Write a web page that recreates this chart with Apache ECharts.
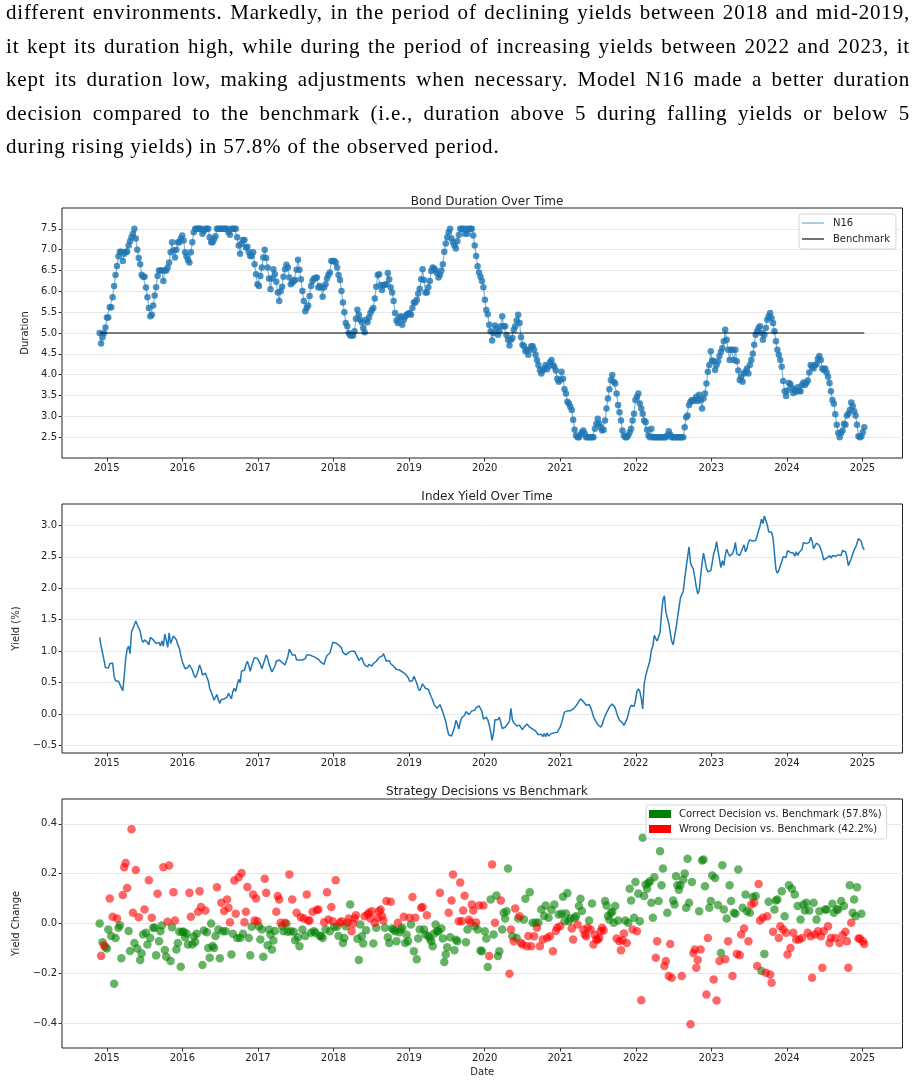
<!DOCTYPE html>
<html lang="en">

<head>
  <meta charset="UTF-8">
  <title>Bond Duration Over Time</title>
  <style>
    html,
    body {
      margin: 0;
      padding: 0;
      background: #fff;
    }

    body {
      width: 916px;
      height: 1086px;
      position: relative;
      overflow: hidden;
    }

    .text {
      position: absolute;
      left: 6px;
      top: -4px;
      width: 904px;
      font-family: 'Liberation Serif', 'DejaVu Serif', serif;
      font-size: 21px;
      letter-spacing: 0.8px;
      line-height: 33.5px;
      color: #000;
      z-index: 2;
    }

    .text div {
      text-align: justify;
      text-align-last: justify;
    }

    .text div.last {
      text-align-last: left;
    }

    #chart {
      position: absolute;
      left: 0;
      top: 0;
      width: 916px;
      height: 1086px;
    }
  </style>
</head>

<body>
  <div class="text">
    <div>different environments. Markedly, in the period of declining yields between 2018 and mid-2019,</div>
    <div>it kept its duration high, while during the period of increasing yields between 2022 and 2023, it</div>
    <div>kept its duration low, making adjustments when necessary. Model N16 made a better duration</div>
    <div>decision compared to the benchmark (i.e., duration above 5 during falling yields or below 5</div>
    <div class="last">during rising yields) in 57.8% of the observed period.</div>
  </div>
  <div id="chart"></div>

  <script src="https://cdn.jsdelivr.net/npm/echarts@6/dist/echarts.min.js"></script>
  <script>
    // weekly observations, first one late Nov 2014 (decimal years)
    const START = 2014.905;
    const WEEK = 7 / 365.25;

    const yearTicks = [2015, 2016, 2017, 2018, 2019, 2020, 2021, 2022, 2023, 2024, 2025];
    const durationTicks = [2.5, 3, 3.5, 4, 4.5, 5, 5.5, 6, 6.5, 7, 7.5];
    const yieldTicks = [-0.5, 0, 0.5, 1, 1.5, 2, 2.5, 3];
    const changeTicks = [-0.4, -0.2, 0, 0.2, 0.4];
    const benchmark = 5;

    const duration = [
      5.0, 4.75, 4.9, 5.0, 5.13, 5.37, 5.37, 5.62, 5.62, 5.86,
      6.13, 6.39, 6.61, 6.84, 6.95, 6.95, 6.73, 6.9, 6.95, 6.95,
      7.1, 7.2, 7.3, 7.38, 7.5, 7.27, 7.0, 6.8, 6.65, 6.4,
      6.35, 6.35, 6.09, 5.86, 5.6, 5.4, 5.44, 5.66, 5.9, 6.1,
      6.37, 6.5, 6.5, 6.5, 6.25, 6.5, 6.5, 6.57, 6.69, 6.94,
      7.18, 6.98, 6.81, 7.0, 7.18, 7.18, 7.26, 7.34, 7.22, 6.94,
      6.84, 6.75, 6.69, 6.94, 7.18, 7.42, 7.5, 7.5, 7.5, 7.5,
      7.5, 7.38, 7.45, 7.5, 7.5, 7.5, 7.3, 7.18, 7.18, 7.25,
      7.32, 7.5, 7.5, 7.5, 7.5, 7.5, 7.5, 7.5, 7.5, 7.42,
      7.36, 7.5, 7.5, 7.5, 7.5, 7.3, 7.1, 6.9, 7.14, 7.23,
      7.23, 7.05, 7.07, 6.94, 6.85, 6.85, 6.94, 6.65, 6.41, 6.17,
      6.13, 6.37, 6.57, 6.81, 7.0, 6.8, 6.57, 6.31, 6.05, 6.31,
      6.53, 6.41, 6.23, 5.97, 5.77, 6.0, 6.11, 6.35, 6.53, 6.64,
      6.57, 6.33, 6.17, 6.21, 6.25, 6.27, 6.52, 6.76, 6.52, 6.29,
      6.01, 5.77, 5.52, 5.6, 5.66, 5.89, 6.13, 6.25, 6.31, 6.32,
      6.33, 6.09, 6.13, 6.09, 5.87, 6.09, 6.17, 6.31, 6.39, 6.45,
      6.73, 6.73, 6.73, 6.69, 6.57, 6.39, 6.27, 6.01, 5.73, 5.5,
      5.24, 5.16, 5.0, 4.94, 4.94, 4.94, 5.04, 5.34, 5.56, 5.44,
      5.32, 5.26, 5.12, 5.02, 5.32, 5.26, 5.37, 5.48, 5.55, 5.6,
      5.83, 6.11, 6.39, 6.41, 6.15, 6.03, 6.15, 6.16, 6.17, 6.44,
      6.29, 6.09, 5.97, 5.77, 5.48, 5.3, 5.24, 5.37, 5.4, 5.2,
      5.32, 5.39, 5.44, 5.46, 5.48, 5.44, 5.6, 5.73, 5.73, 5.8,
      5.95, 6.06, 6.29, 6.53, 6.27, 5.97, 5.97, 6.1, 6.25, 6.49,
      6.57, 6.55, 6.5, 6.44, 6.33, 6.4, 6.5, 6.65, 6.95, 7.15,
      7.3, 7.42, 7.5, 7.27, 7.18, 7.1, 7.03, 7.2, 7.35, 7.5,
      7.5, 7.5, 7.38, 7.5, 7.38, 7.5, 7.5, 7.5, 7.34, 7.1,
      6.85, 6.6, 6.45, 6.35, 6.25, 6.1, 5.8, 5.55, 5.45, 5.2,
      5.04, 4.82, 5.0, 5.18, 5.12, 4.96, 5.04, 5.16, 5.4, 5.16,
      5.16, 4.95, 4.84, 4.7, 4.84, 4.88, 5.08, 5.16, 5.3, 5.44,
      5.24, 4.9, 4.72, 4.68, 4.56, 4.6, 4.48, 4.6, 4.68, 4.68,
      4.6, 4.48, 4.35, 4.23, 4.11, 4.03, 4.1, 4.15, 4.23, 4.13,
      4.2, 4.3, 4.35, 4.23, 4.19, 4.1, 3.9, 3.83, 3.87, 4.07,
      3.9, 3.65, 3.55, 3.35, 3.31, 3.23, 3.15, 2.92, 2.68, 2.54,
      2.5, 2.5, 2.56, 2.62, 2.66, 2.58, 2.5, 2.5, 2.5, 2.5,
      2.5, 2.5, 2.7, 2.82, 2.94, 2.82, 2.74, 2.66, 2.68, 2.9,
      3.19, 3.43, 3.65, 3.87, 3.99, 3.83, 3.79, 3.55, 3.27, 3.1,
      2.9, 2.66, 2.54, 2.5, 2.5, 2.54, 2.62, 2.7, 2.9, 3.06,
      3.39, 3.47, 3.55, 3.31, 3.19, 3.06, 2.9, 2.86, 2.68, 2.54,
      2.5, 2.7, 2.5, 2.5, 2.5, 2.5, 2.5, 2.5, 2.5, 2.5,
      2.5, 2.5, 2.54, 2.64, 2.56, 2.5, 2.5, 2.5, 2.5, 2.5,
      2.5, 2.5, 2.5, 2.5, 2.74, 2.98, 3.02, 3.27, 3.35, 3.39,
      3.37, 3.4, 3.47, 3.37, 3.52, 3.39, 3.19, 3.43, 3.55, 3.79,
      4.07, 4.23, 4.56, 4.34, 4.32, 4.11, 4.23, 4.32, 4.45, 4.55,
      4.64, 4.8, 5.08, 4.84, 4.6, 4.35, 4.6, 4.6, 4.35, 4.6,
      4.32, 4.1, 3.87, 3.95, 3.83, 4.03, 4.07, 4.15, 4.03, 4.23,
      4.35, 4.5, 4.72, 4.96, 5.04, 5.12, 5.16, 5.0, 4.84, 4.96,
      5.12, 5.32, 5.4, 5.48, 5.36, 5.24, 5.04, 4.8, 4.6, 4.48,
      4.35, 4.19, 3.85, 3.6, 3.49, 3.62, 3.8, 3.77, 3.68, 3.56,
      3.63, 3.59, 3.7, 3.61, 3.6, 3.75, 3.81, 3.75, 3.8, 3.86,
      4.05, 4.23, 4.19, 4.15, 4.23, 4.25, 4.38, 4.45, 4.35, 4.15,
      4.11, 4.15, 4.05, 3.95, 3.8, 3.6, 3.39, 3.3, 3.05, 2.8,
      2.6, 2.5, 2.6, 2.66, 2.82, 2.8, 3.02, 3.06, 3.15, 3.33,
      3.25, 3.12, 3.02, 2.8, 2.52, 2.5, 2.52, 2.62, 2.74
    ];

    const indexYield = [
      1.22, 1.08, 0.97, 0.86, 0.74, 0.76, 0.73, 0.80, 0.82, 0.81,
      0.60, 0.53, 0.52, 0.52, 0.50, 0.42, 0.37, 0.60, 0.88, 1.03,
      1.08, 0.96, 1.30, 1.36, 1.34, 1.48, 1.42, 1.45, 1.32, 1.19,
      1.14, 1.18, 1.17, 1.14, 1.10, 1.22, 1.21, 1.18, 1.18, 1.12,
      1.12, 1.14, 1.08, 1.16, 1.08, 1.27, 1.18, 1.06, 1.29, 1.12,
      1.13, 1.24, 1.25, 1.18, 1.10, 1.05, 0.94, 0.84, 0.78, 0.72,
      0.70, 0.74, 0.78, 0.78, 0.70, 0.63, 0.58, 0.62, 0.69, 0.78,
      0.72, 0.62, 0.62, 0.65, 0.63, 0.53, 0.41, 0.35, 0.29, 0.22,
      0.20, 0.31, 0.22, 0.17, 0.23, 0.21, 0.24, 0.23, 0.27, 0.33,
      0.33, 0.24, 0.36, 0.41, 0.36, 0.46, 0.55, 0.50, 0.68, 0.66,
      0.70, 0.78, 0.84, 0.77, 0.68, 0.77, 0.84, 0.90, 0.90, 0.88,
      0.84, 0.79, 0.72, 0.71, 0.86, 0.94, 0.89, 0.79, 0.73, 0.67,
      0.69, 0.76, 0.84, 0.87, 0.86, 0.84, 0.82, 0.80, 0.78, 0.80,
      0.92, 1.03, 1.04, 0.94, 0.97, 0.94, 0.86, 0.84, 0.86, 0.84,
      0.86, 0.83, 0.88, 0.94, 0.93, 0.94, 0.93, 0.92, 0.94, 0.90,
      0.91, 0.87, 0.88, 0.82, 0.79, 0.79, 0.87, 0.93, 0.94, 0.97,
      0.97, 1.14, 1.16, 1.13, 1.11, 1.10, 1.08, 1.05, 0.98, 0.95,
      0.94, 0.95, 0.98, 1.01, 1.00, 1.02, 1.00, 0.99, 0.91, 0.85,
      0.88, 0.90, 0.83, 0.78, 0.75, 0.75, 0.79, 0.81, 0.76, 0.80,
      0.80, 0.84, 0.87, 0.90, 0.91, 0.92, 0.96, 0.93, 0.84, 0.84,
      0.85, 0.80, 0.78, 0.76, 0.73, 0.71, 0.71, 0.70, 0.69, 0.67,
      0.66, 0.64, 0.63, 0.58, 0.52, 0.51, 0.53, 0.60, 0.55, 0.49,
      0.41, 0.37, 0.42, 0.48, 0.47, 0.41, 0.40, 0.39, 0.33, 0.27,
      0.22, 0.15, 0.12, 0.09, 0.11, 0.15, 0.09, 0.03, 0.00, -0.12,
      -0.23, -0.33, -0.35, -0.35, -0.32, -0.22, -0.10, -0.15, -0.24, -0.13,
      -0.06, -0.03, -0.02, 0.04, 0.06, -0.01, 0.02, 0.05, 0.08, 0.06,
      0.10, 0.12, 0.13, 0.12, 0.04, -0.08, -0.05, -0.05, -0.09, -0.17,
      -0.28, -0.42, -0.30, -0.09, -0.12, -0.09, -0.05, -0.13, -0.23, -0.22,
      -0.21, -0.19, -0.15, -0.11, 0.09, -0.09, -0.14, -0.16, -0.19, -0.18,
      -0.18, -0.21, -0.25, -0.21, -0.24, -0.16, -0.15, -0.21, -0.22, -0.24,
      -0.25, -0.27, -0.29, -0.33, -0.33, -0.32, -0.36, -0.31, -0.36, -0.30,
      -0.35, -0.34, -0.31, -0.33, -0.30, -0.31, -0.29, -0.27, -0.21, -0.14,
      -0.05, 0.03, 0.04, 0.05, 0.07, 0.05, 0.04, 0.08, 0.11, 0.13,
      0.16, 0.20, 0.24, 0.22, 0.20, 0.17, 0.14, 0.11, 0.15, 0.11,
      0.04, -0.04, -0.09, -0.13, -0.17, -0.19, -0.21, -0.17, -0.09, -0.03,
      0.02, 0.06, 0.11, 0.14, 0.16, 0.13, 0.10, 0.02, -0.05, -0.10,
      -0.12, -0.14, -0.18, -0.15, -0.09, -0.01, 0.09, 0.14, 0.12, 0.12,
      0.21, 0.36, 0.40, 0.36, 0.25, 0.08, 0.48, 0.60, 0.69, 0.70,
      0.85, 1.02, 1.08, 1.25, 1.20, 1.16, 1.19, 1.30, 1.60, 1.82,
      1.88, 1.62, 1.63, 1.44, 1.30, 1.16, 1.10, 1.23, 1.36, 1.52,
      1.68, 1.84, 1.90, 1.95, 2.15, 2.33, 2.50, 2.66, 2.40, 2.37,
      2.30, 2.17, 2.02, 1.91, 1.96, 2.19, 2.40, 2.56, 2.55, 2.32,
      2.26, 2.26, 2.28, 2.40, 2.55, 2.62, 2.74, 2.74, 2.46, 2.33,
      2.44, 2.36, 2.52, 2.62, 2.56, 2.51, 2.53, 2.55, 2.61, 2.73,
      2.55, 2.56, 2.52, 2.55, 2.64, 2.69, 2.58, 2.63, 2.73, 2.77,
      2.77, 2.75, 2.74, 2.76, 2.83, 2.92, 2.99, 3.10, 3.03, 3.15,
      3.14, 3.01, 2.90, 2.88, 2.89, 2.80, 2.55, 2.30, 2.24, 2.28,
      2.36, 2.42, 2.50, 2.53, 2.49, 2.60, 2.58, 2.57, 2.54, 2.56,
      2.51, 2.58, 2.52, 2.57, 2.58, 2.62, 2.73, 2.70, 2.71, 2.71,
      2.73, 2.81, 2.75, 2.63, 2.66, 2.72, 2.71, 2.68, 2.62, 2.55,
      2.45, 2.47, 2.48, 2.48, 2.52, 2.48, 2.52, 2.49, 2.51, 2.50,
      2.53, 2.55, 2.52, 2.60, 2.62, 2.58, 2.50, 2.36, 2.34, 2.47,
      2.54, 2.61, 2.65, 2.72, 2.79, 2.77, 2.74, 2.65, 2.61
    ];

    const yieldChange = [
      0.0, -0.13, -0.075, -0.087, -0.095, -0.10, -0.024, 0.10, -0.05, 0.027,
      -0.242, -0.058, 0.02, -0.017, -0.007, -0.14, 0.114, 0.226, 0.243, 0.143,
      -0.03, -0.11, 0.379, 0.043, -0.078, 0.215, -0.10, 0.025, -0.147, -0.12,
      -0.044, 0.056, -0.037, -0.084, 0.174, -0.058, 0.023, -0.017, -0.017, -0.128,
      0.119, -0.071, -0.031, -0.008, 0.226, -0.106, -0.134, 0.007, 0.233, -0.151,
      -0.015, 0.126, 0.012, -0.104, -0.078, -0.033, -0.174, -0.033, -0.033, -0.055,
      -0.04, -0.084, 0.123, 0.027, -0.084, -0.052, -0.074, -0.041, 0.047, 0.13,
      0.066, -0.167, -0.028, 0.052, -0.035, -0.098, -0.138, 0.0, -0.09, -0.098,
      -0.05, 0.146, -0.024, -0.14, 0.083, -0.031, 0.05, -0.031, 0.096, 0.063,
      0.005, -0.124, -0.041, 0.173, 0.039, -0.058, 0.186, -0.058, 0.203, -0.041,
      0.005, 0.047, 0.147, -0.058, -0.128, -0.013, 0.116, 0.012, 0.10, 0.009,
      -0.011, -0.064, -0.024, -0.134, 0.18, 0.123, -0.087, -0.024, -0.044, -0.104,
      -0.068, -0.03, 0.047, 0.11, 0.096, 0.003, -0.011, -0.031, 0.003, -0.001,
      -0.033, 0.197, -0.031, 0.096, -0.033, -0.067, 0.043, -0.055, -0.091, 0.025,
      -0.024, 0.02, -0.05, 0.116, 0.012, 0.012, -0.037, 0.047, -0.031, -0.037,
      0.054, 0.056, -0.05, -0.05, -0.058, 0.005, -0.024, 0.126, 0.016, -0.031,
      0.066, 0.009, -0.013, 0.174, -0.013, -0.05, 0.003, 0.009, -0.078, -0.058,
      -0.011, 0.003, 0.02, 0.076, -0.031, -0.001, 0.02, 0.033, -0.061, -0.147,
      -0.004, -0.051, -0.08, 0.029, -0.027, 0.036, 0.043, 0.02, 0.049, -0.08,
      0.003, -0.017, 0.023, 0.049, 0.056, 0.03, 0.012, -0.017, 0.09, -0.055,
      -0.078, 0.087, -0.02, -0.024, -0.031, -0.071, 0.003, -0.035, -0.024, -0.017,
      0.027, -0.078, -0.045, -0.071, 0.023, -0.004, 0.106, -0.111, 0.023, -0.144,
      -0.06, -0.024, 0.063, 0.066, -0.024, -0.044, 0.033, -0.05, -0.06, -0.071,
      -0.091, -0.04, -0.004, -0.031, -0.031, 0.123, -0.02, -0.06, -0.155, -0.124,
      -0.095, 0.043, -0.055, 0.092, 0.197, -0.107, -0.065, -0.071, 0.009, 0.165,
      0.009, 0.052, 0.111, -0.075, -0.024, 0.015, 0.005, 0.076, 0.052, -0.011,
      0.004, -0.024, 0.072, -0.108, -0.111, 0.072, -0.031, -0.06, -0.175, -0.131,
      0.096, 0.237, -0.044, 0.003, 0.112, -0.131, -0.111, 0.092, -0.024, 0.043,
      0.02, 0.049, 0.221, -0.202, -0.024, -0.051, -0.071, 0.06, -0.058, 0.02,
      0.029, -0.078, -0.084, 0.016, 0.099, -0.091, -0.05, 0.126, -0.091, 0.003,
      -0.051, 0.003, -0.017, 0.004, -0.091, 0.056, -0.064, 0.03, 0.072, -0.058,
      0.023, -0.051, 0.054, -0.111, 0.076, -0.03, -0.017, 0.036, -0.011, 0.039,
      0.107, 0.009, 0.04, 0.122, 0.009, 0.02, -0.02, -0.064, 0.023, 0.029,
      -0.004, 0.07, 0.099, 0.05, -0.024, -0.044, -0.051, -0.017, 0.012, -0.024,
      0.08, -0.084, -0.045, -0.064, -0.064, -0.058, -0.031, -0.017, -0.028, 0.09,
      0.072, 0.03, 0.016, 0.043, 0.047, 0.003, 0.07, -0.06, 0.012, -0.071,
      -0.107, -0.067, -0.04, 0.012, -0.078, 0.003, 0.14, 0.092, -0.024, 0.023,
      0.167, -0.031, 0.12,
      0.009, -0.308, 0.344, 0.11, 0.157, 0.14, 0.163, 0.17, 0.083, 0.023,
      0.186, -0.138, -0.071, 0.09, 0.29, 0.154, 0.221, -0.171, -0.151, 0.043,
      -0.211, -0.082, -0.218, 0.092, 0.076, 0.19, 0.154, 0.136, 0.154, -0.211,
      0.177, 0.201, 0.063, 0.26, 0.083, -0.405, 0.167, -0.118, -0.104, -0.178,
      -0.147, 0.049, -0.104, 0.253, 0.257, 0.15, -0.285, -0.058, 0.063, 0.09,
      0.193, -0.225, 0.183, -0.309, 0.074, -0.151, -0.118, 0.234, 0.056, -0.144,
      0.02, -0.071, 0.154, 0.09, -0.211, 0.043, 0.039, -0.122, 0.217, -0.127,
      -0.044, 0.063, -0.02, 0.116, 0.049, -0.071, 0.043, 0.076, 0.106, 0.083,
      0.11, -0.171, 0.159, 0.012, -0.191, 0.023, -0.122, -0.198, 0.029, 0.087,
      -0.205, -0.238, -0.033, 0.056, 0.092, 0.096, -0.058, -0.011, 0.13, -0.024,
      0.029, -0.037, -0.124, 0.154, -0.098, 0.14, -0.037, 0.116, -0.064, 0.07,
      -0.064, 0.016, -0.058, 0.076, 0.052, 0.083, -0.037, 0.052, -0.051, -0.218,
      0.083, -0.044, 0.016, -0.031, 0.049, -0.051, -0.178, -0.031, 0.056, 0.056,
      -0.011, -0.078, -0.058, 0.079, 0.043, -0.058, 0.056, 0.056, -0.078, 0.09,
      -0.047, 0.07, -0.033, -0.071, -0.178, 0.154, 0.003, 0.043, 0.096, 0.029,
      0.146, -0.06, -0.06, 0.039, -0.071, -0.082
    ];

    // G = correct decision vs benchmark, R = wrong (one letter per week)
    const decision = [
      'GRGRGGGRGR', 'GGRGGGRRRR', 'GGRRGRGRGG', 'GRGGRGRGGG', 'RGGGRGGRRG', 'GRRGGGGGGG',
      'GGRRGGGGRR', 'RGGRGGGGGG', 'GRGGRGRGRR', 'RGGRRGRGRG', 'RRRGGGRRRR', 'GGGGRRGGGG',
      'GGRRRRGGRG', 'GRGRGGRGGR', 'GRGRRRGRGG', 'RRGGGRGRRG', 'RRGRGGRRGG', 'GRRGRRRRGG',
      'GGGRGRRRRG', 'RGRRRRRGRG', 'GRGGGGRGGG', 'RGGGRGRGRG', 'GGRRGGRGGG', 'GGGGGRGGGG',
      'GRGRRGGGRR', 'RRRGGRRRRG', 'RGRGGRGGGR', 'GRGRGGGRGG', 'GGGRRGRRGG', 'RRRGGRRGRG',
      'RGRGRGRGGR', 'GRGRGRRGRG', 'GGGGGGRRGG', 'RGGGRRRRGR', 'GRRRRRRRRG', 'GGGGGGGRGR',
      'RRRGRGGGRG', 'GRG',
      'GRGGGGGGGG', 'GRRGGGGRRG', 'RRRGGGGGGR', 'GGGGGRGRRR', 'RGRGGGRRGG', 'GRGRGRGGGR',
      'GRGGRGGRGR', 'RGRGGRGRGR', 'GRRRGRGRRG', 'RRRGGGRRGR', 'GRRGRGRGRG', 'RGRGGGRGRR',
      'GRGRGRRRGG', 'RRRGGRGGRG', 'RGRRRGRGGG', 'GRRGRR'
    ].join('');

    const CORRECT = 'Correct Decision vs. Benchmark (57.8%)';
    const WRONG = 'Wrong Decision vs. Benchmark (42.2%)';
    const FONT = 'DejaVu Sans';
    const X_MIN = 2014.407;
    const X_MAX = 2025.53;

    const weekX = i => START + i * WEEK;
    const durData = duration.map((v, i) => [weekX(i), v]);
    const yieldData = indexYield.map((v, i) => [weekX(i), v]);
    const correctData = [];
    const wrongData = [];
    yieldChange.forEach((v, i) => {
      (decision[i] === 'R' ? wrongData : correctData).push([weekX(i), v]);
    });
    const benchData = [[weekX(0), benchmark], [weekX(duration.length - 1), benchmark]];

    const fmt = v => (v < 0 ? '\u2212' : '') + Math.abs(v).toFixed(1);
    const gridLine = { show: true, lineStyle: { color: '#e8e8e8', width: 1 } };

    function xAxis(idx, extra) {
      return Object.assign({
        type: 'value',
        gridIndex: idx,
        min: X_MIN,
        max: X_MAX,
        axisLine: { show: false, onZero: false },
        splitLine: { show: false },
        axisTick: { show: true, length: 3.5, lineStyle: { color: '#333' }, customValues: yearTicks },
        axisLabel: {
          customValues: yearTicks, formatter: v => String(Math.round(v)),
          fontSize: 10, color: '#222', fontFamily: FONT, margin: 5
        },
      }, extra || {});
    }

    function yAxis(idx, ticks, min, max, name, nameGap, extra) {
      return Object.assign({
        type: 'value',
        gridIndex: idx,
        min: min,
        max: max,
        name: name,
        nameLocation: 'middle',
        nameGap: nameGap,
        nameTextStyle: { fontSize: 10, color: '#222', fontFamily: FONT },
        axisLine: { show: false, onZero: false },
        splitLine: gridLine,
        axisTick: { show: true, length: 3.5, lineStyle: { color: '#333' }, customValues: ticks },
        axisLabel: { customValues: ticks, formatter: fmt, fontSize: 10, color: '#222', fontFamily: FONT, margin: 5 },
      }, extra || {});
    }

    const gridBase = { left: 62, right: 13.5, show: true, borderColor: '#222', borderWidth: 1, backgroundColor: 'transparent', outerBoundsMode: 'none' };
    const titleStyle = { fontSize: 12, fontWeight: 'normal', color: '#222', fontFamily: FONT };

    const option = {
      animation: false,
      backgroundColor: 'transparent',
      title: [
        { text: 'Bond Duration Over Time', left: 482, top: 191, textAlign: 'center', textStyle: titleStyle },
        { text: 'Index Yield Over Time', left: 482, top: 486, textAlign: 'center', textStyle: titleStyle },
        { text: 'Strategy Decisions vs Benchmark', left: 482, top: 781, textAlign: 'center', textStyle: titleStyle },
      ],
      grid: [
        Object.assign({ top: 208, height: 250 }, gridBase),
        Object.assign({ top: 504, height: 249 }, gridBase),
        Object.assign({ top: 799, height: 249 }, gridBase),
      ],
      xAxis: [
        xAxis(0),
        xAxis(1),
        xAxis(2, { name: 'Date', nameLocation: 'middle', nameGap: 19, nameTextStyle: { fontSize: 10, color: '#222', fontFamily: FONT } }),
      ],
      yAxis: [
        yAxis(0, durationTicks, 2, 8, 'Duration', 27, { interval: 0.5 }),
        yAxis(1, yieldTicks, -0.62, 3.34, 'Yield (%)', 37),
        yAxis(2, changeTicks, -0.5, 0.5, 'Yield Change', 37),
      ],
      legend: [
        {
          orient: 'vertical', left: 799, top: 214,
          data: [
            { name: 'N16', itemStyle: { color: '#8ebbdb' } },
            { name: 'Benchmark', itemStyle: { color: '#444' } },
          ],
          icon: 'rect', itemWidth: 22, itemHeight: 1.5, itemGap: 4,
          padding: [3, 6, 4, 3],
          backgroundColor: 'rgba(255,255,255,0.85)', borderColor: '#d4d4d4', borderWidth: 1, borderRadius: 3,
          textStyle: { fontSize: 10, color: '#222', fontFamily: FONT, lineHeight: 12, padding: [0, 0, 0, 4] },
          selectedMode: false,
        },
        {
          orient: 'vertical', left: 646, top: 805,
          data: [
            { name: CORRECT, itemStyle: { color: '#008000', opacity: 1 } },
            { name: WRONG, itemStyle: { color: '#ff0000', opacity: 1 } },
          ],
          icon: 'rect', itemWidth: 22, itemHeight: 8, itemGap: 3,
          padding: [3, 5, 4, 3],
          backgroundColor: 'rgba(255,255,255,0.85)', borderColor: '#d4d4d4', borderWidth: 1, borderRadius: 3,
          textStyle: { fontSize: 10, color: '#222', fontFamily: FONT, lineHeight: 12, padding: [0, 0, 0, 3] },
          selectedMode: false,
        },
      ],
      series: [
        {
          name: 'N16', type: 'line', xAxisIndex: 0, yAxisIndex: 0, data: durData,
          showSymbol: false, lineStyle: { color: '#1f77b4', width: 1.2, opacity: 0.55 }, itemStyle: { color: '#1f77b4' }, z: 2,
        },
        {
          name: 'N16 points', type: 'scatter', xAxisIndex: 0, yAxisIndex: 0, data: durData,
          symbolSize: 6.5, itemStyle: { color: '#1f77b4' }, z: 3,
        },
        {
          name: 'Benchmark', type: 'line', xAxisIndex: 0, yAxisIndex: 0, data: benchData,
          showSymbol: false, lineStyle: { color: '#000', width: 1 }, itemStyle: { color: '#000' }, z: 4,
        },
        {
          name: 'Index Yield', type: 'line', xAxisIndex: 1, yAxisIndex: 1, data: yieldData,
          showSymbol: false, lineStyle: { color: '#1f77b4', width: 1.5 }, itemStyle: { color: '#1f77b4' },
        },
        {
          name: CORRECT, type: 'scatter', xAxisIndex: 2, yAxisIndex: 2, data: correctData,
          symbolSize: 8.5, itemStyle: { color: '#008000', opacity: 0.6 },
        },
        {
          name: WRONG, type: 'scatter', xAxisIndex: 2, yAxisIndex: 2, data: wrongData,
          symbolSize: 8.5, itemStyle: { color: '#ff0000', opacity: 0.6 },
        },
      ],
    };

    const chart = echarts.init(document.getElementById('chart'));
    chart.setOption(option);
  </script>
</body>

</html>
